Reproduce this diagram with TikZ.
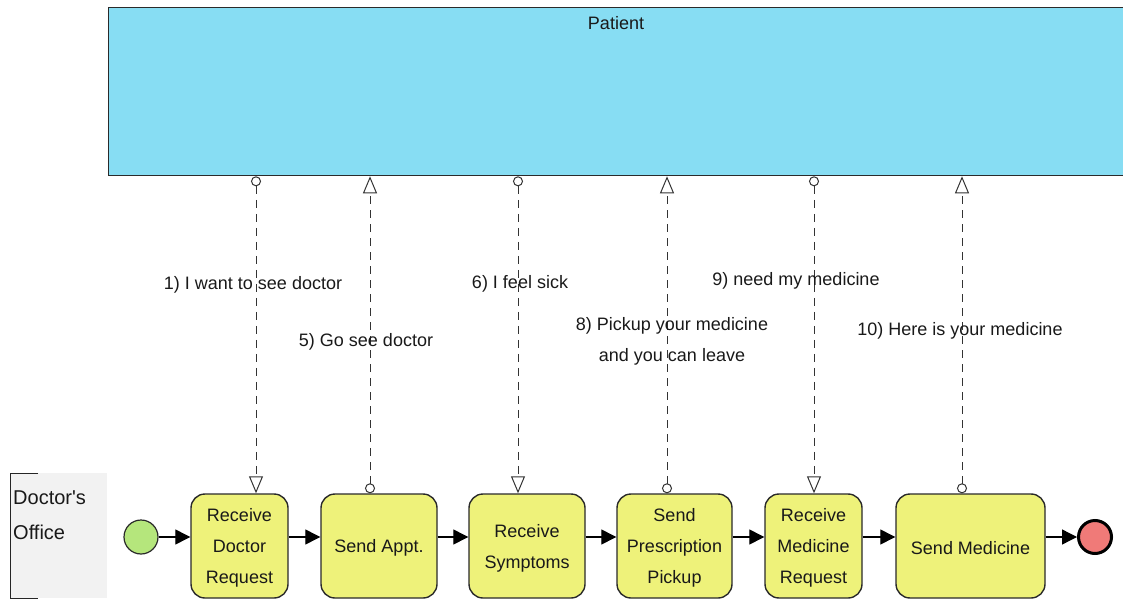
\documentclass[tikz,border=0pt]{standalone}
\usepackage{fontspec}
\setmainfont{Liberation Sans}
\usetikzlibrary{arrows.meta}
\definecolor{poolblue}{HTML}{87DDF3}
\definecolor{taskyellow}{HTML}{EEF27A}
\definecolor{startgreen}{HTML}{B5E67C}
\definecolor{endred}{HTML}{F07A78}
\definecolor{lanegray}{HTML}{F2F2F2}
\definecolor{edge}{HTML}{2A2A2A}
\tikzset{
  every node/.style={font=\fontsize{18}{31}\selectfont, text=black!90},
  pool/.style={draw=edge, line width=1.3pt, fill=poolblue, inner sep=0pt},
  task/.style={draw=edge, line width=1.4pt, fill=taskyellow, rounded corners=14pt,
    minimum height=104pt, inner sep=0pt, align=center},
  tasktext/.style={inner sep=0pt, align=center},
  startev/.style={circle, draw=edge, line width=1.2pt, fill=startgreen, minimum size=34pt, inner sep=0pt},
  endev/.style={circle, draw=black, line width=3pt, fill=endred, minimum size=33pt, inner sep=0pt},
  seq/.style={draw=black, line width=1.3pt, -{Triangle[length=15pt, width=15pt]}},
  msg/.style={draw=black!80, line width=1pt, dash pattern=on 8pt off 6pt,
    {Circle[fill=white, length=10pt, width=10pt, line width=1pt, sep=0pt]}-{Triangle[fill=white, length=17pt, width=14pt, line width=1pt]}},
  msglabel/.style={inner sep=0pt, align=center},
  lanelabel/.style={anchor=west, inner sep=0pt, font=\fontsize{20}{31}\selectfont}
}
\begin{document}
\begin{tikzpicture}[x=1pt, y=-1pt]
\useasboundingbox (0,0) rectangle (1123,601);
\clip (0,0) rectangle (1123,601);

% Patient pool
\node[pool, minimum width=1040pt, minimum height=168pt, anchor=north west] (pool) at (108,7) {};
\node (plabel) at (616,23) {Patient};

% Doctor's Office lane header
\fill[lanegray] (10,473) rectangle (107,598);
\draw[black!85, line width=1pt] (38,473) -- (10,473) -- (10,598) -- (38,598);
\node[lanelabel] (lane1) at (13,498) {Doctor\textquotesingle s};
\node[lanelabel] (lane2) at (13,532) {Office};

% Flow objects (boxes, with their captions set slightly low)
\node[startev] (start) at (141,537) {};
\node[task, minimum width=97pt]  (t1) at (239.5,546) {};
\node[task, minimum width=116pt] (t2) at (379,546)   {};
\node[task, minimum width=116pt] (t3) at (527,546)   {};
\node[task, minimum width=115pt] (t4) at (674.5,546) {};
\node[task, minimum width=97pt]  (t5) at (813.5,546) {};
\node[task, minimum width=149pt] (t6) at (970.5,546) {};
\node[tasktext] (c1) at ([yshift=-2pt]t1.center) {Receive\\Doctor\\Request};
\node[tasktext] (c2) at ([yshift=-2pt]t2.center) {Send Appt.};
\node[tasktext] (c3) at ([yshift=-2pt]t3.center) {Receive\\Symptoms};
\node[tasktext] (c4) at ([yshift=-2pt]t4.center) {Send\\Prescription\\Pickup};
\node[tasktext] (c5) at ([yshift=-2pt]t5.center) {Receive\\Medicine\\Request};
\node[tasktext] (c6) at ([yshift=-2pt]t6.center) {Send Medicine};
\node[endev] (end) at (1095,537) {};

% Sequence flows
\coordinate (fy) at (0,537);
\draw[seq] (start.east) -- (t1.west |- fy);
\draw[seq] (t1.east |- fy) -- (t2.west |- fy);
\draw[seq] (t2.east |- fy) -- (t3.west |- fy);
\draw[seq] (t3.east |- fy) -- (t4.west |- fy);
\draw[seq] (t4.east |- fy) -- (t5.west |- fy);
\draw[seq] (t5.east |- fy) -- (t6.west |- fy);
\draw[seq] (t6.east |- fy) -- (end.west);

% Message flows
\coordinate (m1) at (256,0);
\coordinate (m5) at (370,0);
\coordinate (m6) at (518,0);
\coordinate (m8) at (667,0);
\coordinate (m9) at (814,0);
\coordinate (m10) at (962,0);
\draw[msg] (m1 |- pool.south) -- (m1 |- t1.north);
\draw[msg] (m5 |- t2.north) -- (m5 |- pool.south);
\draw[msg] (m6 |- pool.south) -- (m6 |- t3.north);
\draw[msg] (m8 |- t4.north) -- (m8 |- pool.south);
\draw[msg] (m9 |- pool.south) -- (m9 |- t5.north);
\draw[msg] (m10 |- t6.north) -- (m10 |- pool.south);

% Message labels
\node[msglabel] (l1) at (253,285) {1) I want to see doctor};
\node[msglabel] (l5) at (366,342) {5) Go see doctor};
\node[msglabel] (l6) at (520,284) {6) I feel sick};
\node[msglabel] (l8) at (672,341) {8) Pickup your medicine\\and you can leave};
\node[msglabel] (l9) at (796,281) {9) need my medicine};
\node[msglabel] (l10) at (960,331) {10) Here is your medicine};
\end{tikzpicture}
\end{document}
